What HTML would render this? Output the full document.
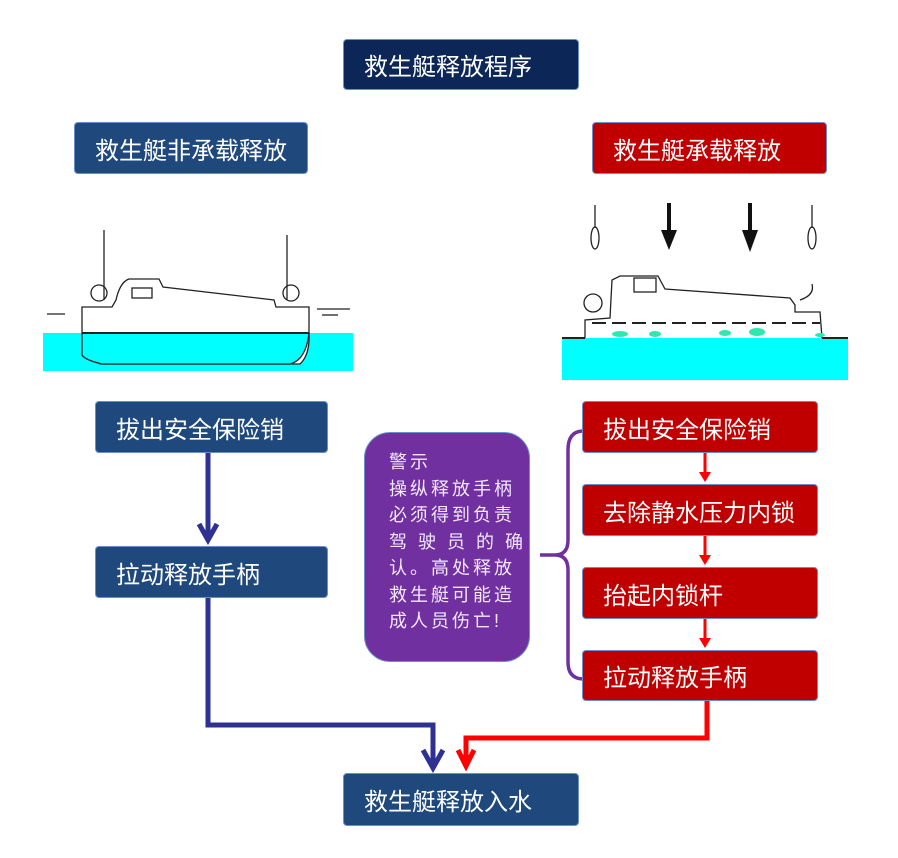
<!DOCTYPE html>
<html><head><meta charset="utf-8"><style>
body{margin:0;width:898px;height:858px;background:#fff;position:relative;overflow:hidden;font-family:"Liberation Sans","Noto Sans CJK SC",sans-serif}
.b{position:absolute;color:#fff;font-size:24px;box-sizing:border-box;border:1.5px solid #6a8fc8;border-radius:4px;display:flex;align-items:center;padding-left:20px}
.n{background:#1f497d}.r{background:#c00000}
</style></head><body>
<div class="b" style="left:343px;top:39px;width:236px;height:51px;background:#0c2757">救生艇释放程序</div>
<div class="b n" style="left:74px;top:122px;width:234px;height:52px">救生艇非承载释放</div>
<div class="b r" style="left:592px;top:122px;width:235px;height:52px">救生艇承载释放</div>
<div class="b n" style="left:95px;top:401px;width:233px;height:52px">拔出安全保险销</div>
<div class="b n" style="left:95px;top:546px;width:233px;height:52px">拉动释放手柄</div>
<div class="b r" style="left:582px;top:401px;width:236px;height:52px">拔出安全保险销</div>
<div class="b r" style="left:582px;top:484px;width:236px;height:52px">去除静水压力内锁</div>
<div class="b r" style="left:582px;top:567px;width:236px;height:52px">抬起内锁杆</div>
<div class="b r" style="left:582px;top:650px;width:236px;height:51px">拉动释放手柄</div>
<div class="b n" style="left:343px;top:773px;width:236px;height:53px">救生艇释放入水</div>
<div style="position:absolute;left:364px;top:432px;width:166px;height:230px;box-sizing:border-box;background:#7030a0;border:1.5px solid #6a8fc8;border-radius:26px;color:#f4e8ff;font-size:18px;line-height:26.5px;padding:16px 0 0 24px;letter-spacing:3px">警示<br>操纵释放手柄<br>必须得到负责<br>驾 驶 员 的 确<br>认。高处释放<br>救生艇可能造<br>成人员伤亡!</div>
<svg width="898" height="858" style="position:absolute;left:0;top:0">
<g stroke="#2e3192" stroke-width="5" fill="none">
<line x1="208" y1="453" x2="208" y2="540"/>
<polyline points="199,524 208,540 217,524"/>
<polyline points="208,598 208,725 433,725 433,768"/>
<polyline points="423,750 433,768 443,750"/>
</g>
<g stroke="#ff0000" stroke-width="5" fill="none">
<polyline points="707,701 707,738 466,738 466,766"/>
<polyline points="458,750 466,766 474,750"/>
</g>
<g stroke="#ff0000" stroke-width="3" fill="#ff0000">
<line x1="705" y1="453" x2="705" y2="474"/><polygon points="699,472 711,472 705,482" stroke="none"/>
<line x1="705" y1="536" x2="705" y2="557"/><polygon points="699,555 711,555 705,565" stroke="none"/>
<line x1="705" y1="619" x2="705" y2="640"/><polygon points="699,638 711,638 705,648" stroke="none"/>
</g>
<path d="M582,431 Q568,432 568,450 L568,540 Q568,555 555,555 L540,555 M555,555 Q568,555 568,570 L568,662 Q568,678 582,679" stroke="#7030a0" stroke-width="3.5" fill="none"/>
<rect x="43" y="333" width="310" height="38" fill="#00ffff"/>
<g stroke="#222" stroke-width="1.3" fill="none">
<path d="M82,307 L82,333 Q82,350 100,364 L300,364 Q310,355 309,333 L309,307 L276,307 L274,300 L163,287 L159,279 L129,279 Q120,282 116,300 L112,307 Z" fill="#fff"/>
<path d="M82,333 L82,355 Q85,360 102,364 L290,364 Q306,360 309,333" fill="#00ffff"/>
<line x1="82" y1="333" x2="309" y2="333" stroke-width="2"/>
<rect x="132" y="288" width="20" height="10"/>
<line x1="104" y1="230" x2="104" y2="300"/><line x1="287" y1="235" x2="287" y2="300"/>
<circle cx="99" cy="293" r="8"/><circle cx="291" cy="293" r="8"/>
<line x1="47" y1="314" x2="65" y2="314"/><line x1="317" y1="309" x2="350" y2="309"/><line x1="322" y1="315" x2="338" y2="315"/>
</g>
<rect x="562" y="338" width="286" height="42" fill="#00ffff"/>
<g stroke="#222" stroke-width="1.3" fill="none">
<path d="M585,338 L585,320 L610,318 L612,280 L620,276 L658,276 L665,289 L790,298 L795,305 L795,312 L820,312 L822,338"/>
<rect x="634" y="278" width="22" height="14"/>
<circle cx="593" cy="303" r="9"/><path d="M800,300 Q815,295 812,284"/>
<line x1="595" y1="205" x2="595" y2="228"/><ellipse cx="595" cy="238" rx="4" ry="11"/>
<line x1="812" y1="205" x2="812" y2="228"/><ellipse cx="812" cy="238" rx="4" ry="11"/>
<path d="M592,323 L820,323" stroke-dasharray="14,6" stroke-width="2"/>
<line x1="562" y1="338" x2="585" y2="338" stroke-width="2"/><line x1="822" y1="338" x2="848" y2="338" stroke-width="2"/>
</g>
<g fill="#2ee8b0"><ellipse cx="620" cy="334" rx="8" ry="3"/><ellipse cx="655" cy="334" rx="6" ry="3"/><ellipse cx="725" cy="333" rx="6" ry="3"/><ellipse cx="757" cy="332" rx="8" ry="4"/><ellipse cx="820" cy="335" rx="5" ry="2"/></g>
<g fill="#111"><rect x="667" y="203" width="4" height="30"/><polygon points="661,230 677,230 669,250"/>
<rect x="748" y="203" width="4" height="30"/><polygon points="742,230 758,230 750,252"/></g>
</svg>
</body></html>
